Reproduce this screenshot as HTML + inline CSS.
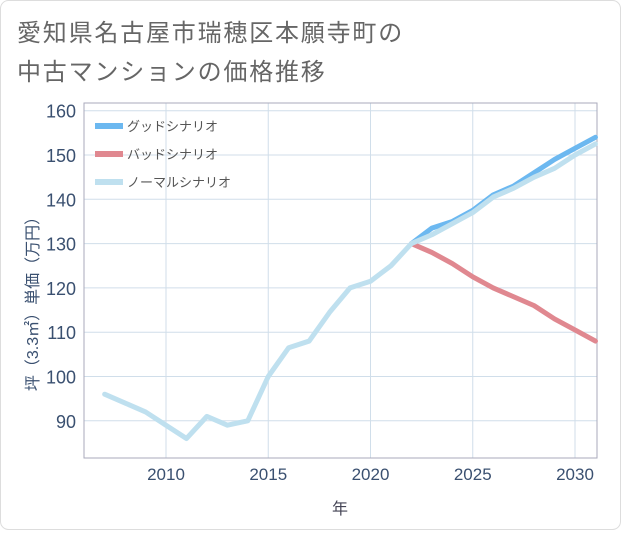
<!DOCTYPE html>
<html><head><meta charset="utf-8"><style>
body{margin:0;background:#fff;font-family:"Liberation Sans","Noto Sans CJK JP",sans-serif;}
#wrap{position:relative;width:621px;height:530px;}
</style></head><body>
<div id="wrap">
<svg id="chart" width="621" height="530" xmlns="http://www.w3.org/2000/svg">
<rect x="0.5" y="0.5" width="620" height="529" rx="8" fill="#fff" stroke="#ddd"/>
<text x="17" y="41" font-size="24" letter-spacing="1.8" fill="#666">愛知県名古屋市瑞穂区本願寺町の</text>
<text x="17" y="80" font-size="24" letter-spacing="1.8" fill="#666">中古マンションの価格推移</text>
<g id="grid"></g>
<rect x="84" y="103" width="513" height="355" fill="none" stroke="#aab"/>
<g id="series"></g>
<g id="axes"></g>
<text x="340" y="514" font-size="16" fill="#445" text-anchor="middle">年</text>
<text transform="translate(38,300) rotate(-90)" font-size="16" fill="#3a5070" text-anchor="middle">坪（3.3㎡）単価（万円）</text>
<g>
<line x1="95" y1="126" x2="123" y2="126" stroke="#6cb8f0" stroke-width="6"/>
<text x="127" y="131" font-size="13" fill="#555">グッドシナリオ</text>
<line x1="95" y1="154" x2="123" y2="154" stroke="#e08890" stroke-width="6"/>
<text x="127" y="159" font-size="13" fill="#555">バッドシナリオ</text>
<line x1="95" y1="182" x2="123" y2="182" stroke="#bfe0ef" stroke-width="6"/>
<text x="127" y="187" font-size="13" fill="#555">ノーマルシナリオ</text>
</g>
</svg>
</div>
<script>
const years=[2007,2008,2009,2010,2011,2012,2013,2014,2015,2016,2017,2018,2019,2020,2021,2022,2023,2024,2025,2026,2027,2028,2029,2030,2031];
const normalValues=[96,94,92,89,86,91,89,90,100,106.5,108,114.5,120,121.5,125,130,132,134.5,137,140.5,142.5,145,147,150,152.5];
const forecastYears=[2022,2023,2024,2025,2026,2027,2028,2029,2030,2031];
const goodValues=[130,133.5,135,137.5,141,143,146,149,151.5,154];
const badValues=[130,128,125.5,122.5,120,118,116,113,110.5,108];
const yTicks=[90,100,110,120,130,140,150,160];
const xTicks=[2010,2015,2020,2025,2030];
const NS="http://www.w3.org/2000/svg";
function xs(y){return 166+(y-2010)*20.45;}
function ys(v){return 110.7+(160-v)*4.43;}
function mk(t,a){const e=document.createElementNS(NS,t);for(const k in a)e.setAttribute(k,a[k]);return e;}
const grid=document.getElementById('grid'),axes=document.getElementById('axes'),ser=document.getElementById('series');
yTicks.forEach(v=>{
 const l=mk('line',{x1:84,x2:597,y1:ys(v),y2:ys(v),stroke:'#d0deea'});
 
 
 grid.appendChild(l);
 const t=mk('text',{x:76,y:ys(v)+7,'font-size':18,fill:'#3a5070','text-anchor':'end'});
 t.textContent=v;
 
 
 axes.appendChild(t);
});
xTicks.forEach(v=>{
 const l=mk('line',{x1:xs(v),x2:xs(v),y1:103,y2:458,stroke:'#d0deea'});
 
 
 grid.appendChild(l);
 const t=mk('text',{x:xs(v),y:480,'font-size':17,fill:'#3a5070','text-anchor':'middle'});
 t.textContent=v;
 
 
 axes.appendChild(t);
});
function line(xv,yv,color,name){
 const p=mk('polyline',{points:xv.map((x,i)=>xs(x)+','+ys(yv[i])).join(' '),fill:'none',stroke:color,'stroke-width':5,'stroke-linejoin':'round','stroke-linecap':'round'});
 
 
 ser.appendChild(p);
}
line(forecastYears,badValues,'#e08890','bad-scenario-line');
line(forecastYears,goodValues,'#6cb8f0','good-scenario-line');
line(years,normalValues,'#bfe0ef','normal-scenario-line');
</script>
</body></html>
